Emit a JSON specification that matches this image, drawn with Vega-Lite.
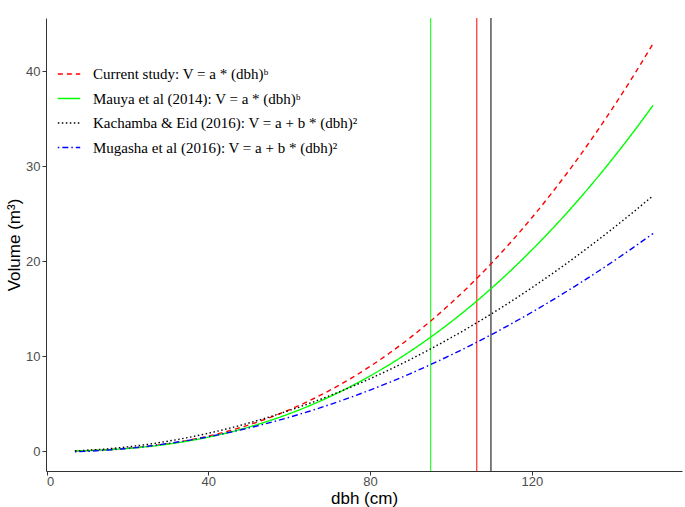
{
  "$schema": "https://vega.github.io/schema/vega-lite/v6.json",
  "width": 636,
  "height": 453,
  "autosize": "none",
  "padding": {"left": 46, "top": 18, "right": 3, "bottom": 36},
  "background": "white",
  "config": {
    "view": {"stroke": null},
    "axis": {
      "grid": false,
      "domainColor": "#333333",
      "domainWidth": 1,
      "tickColor": "#333333",
      "tickSize": 4,
      "labelColor": "#4D4D4D",
      "labelFont": "Liberation Sans",
      "labelFontSize": 13,
      "labelPadding": 2,
      "titleFont": "Liberation Sans",
      "titleFontSize": 17,
      "titleFontWeight": "normal",
      "titleColor": "#000000"
    }
  },
  "datasets": {
    "cuts": [
      {"model": "Mauya et al (2014): V = a * (dbh)ᵇ", "dbh": 95.0},
      {"model": "Current study: V = a * (dbh)ᵇ", "dbh": 106.4},
      {"model": "Kachamba & Eid (2016): V = a + b * (dbh)²", "dbh": 109.9}
    ],
    "curves": [
      {"model": "Current study: V = a * (dbh)ᵇ", "dbh": 7, "v": 0.020},
      {"model": "Current study: V = a * (dbh)ᵇ", "dbh": 10, "v": 0.049},
      {"model": "Current study: V = a * (dbh)ᵇ", "dbh": 15, "v": 0.136},
      {"model": "Current study: V = a * (dbh)ᵇ", "dbh": 20, "v": 0.279},
      {"model": "Current study: V = a * (dbh)ᵇ", "dbh": 25, "v": 0.487},
      {"model": "Current study: V = a * (dbh)ᵇ", "dbh": 30, "v": 0.768},
      {"model": "Current study: V = a * (dbh)ᵇ", "dbh": 35, "v": 1.128},
      {"model": "Current study: V = a * (dbh)ᵇ", "dbh": 40, "v": 1.576},
      {"model": "Current study: V = a * (dbh)ᵇ", "dbh": 45, "v": 2.115},
      {"model": "Current study: V = a * (dbh)ᵇ", "dbh": 50, "v": 2.752},
      {"model": "Current study: V = a * (dbh)ᵇ", "dbh": 55, "v": 3.493},
      {"model": "Current study: V = a * (dbh)ᵇ", "dbh": 60, "v": 4.342},
      {"model": "Current study: V = a * (dbh)ᵇ", "dbh": 65, "v": 5.304},
      {"model": "Current study: V = a * (dbh)ᵇ", "dbh": 70, "v": 6.383},
      {"model": "Current study: V = a * (dbh)ᵇ", "dbh": 75, "v": 7.585},
      {"model": "Current study: V = a * (dbh)ᵇ", "dbh": 80, "v": 8.913},
      {"model": "Current study: V = a * (dbh)ᵇ", "dbh": 85, "v": 10.372},
      {"model": "Current study: V = a * (dbh)ᵇ", "dbh": 90, "v": 11.965},
      {"model": "Current study: V = a * (dbh)ᵇ", "dbh": 95, "v": 13.696},
      {"model": "Current study: V = a * (dbh)ᵇ", "dbh": 100, "v": 15.570},
      {"model": "Current study: V = a * (dbh)ᵇ", "dbh": 105, "v": 17.590},
      {"model": "Current study: V = a * (dbh)ᵇ", "dbh": 110, "v": 19.759},
      {"model": "Current study: V = a * (dbh)ᵇ", "dbh": 115, "v": 22.082},
      {"model": "Current study: V = a * (dbh)ᵇ", "dbh": 120, "v": 24.561},
      {"model": "Current study: V = a * (dbh)ᵇ", "dbh": 125, "v": 27.200},
      {"model": "Current study: V = a * (dbh)ᵇ", "dbh": 130, "v": 30.002},
      {"model": "Current study: V = a * (dbh)ᵇ", "dbh": 135, "v": 32.970},
      {"model": "Current study: V = a * (dbh)ᵇ", "dbh": 140, "v": 36.108},
      {"model": "Current study: V = a * (dbh)ᵇ", "dbh": 145, "v": 39.421},
      {"model": "Current study: V = a * (dbh)ᵇ", "dbh": 150, "v": 42.906},
      {"model": "Mauya et al (2014): V = a * (dbh)ᵇ", "dbh": 7, "v": 0.021},
      {"model": "Mauya et al (2014): V = a * (dbh)ᵇ", "dbh": 10, "v": 0.050},
      {"model": "Mauya et al (2014): V = a * (dbh)ᵇ", "dbh": 15, "v": 0.136},
      {"model": "Mauya et al (2014): V = a * (dbh)ᵇ", "dbh": 20, "v": 0.273},
      {"model": "Mauya et al (2014): V = a * (dbh)ᵇ", "dbh": 25, "v": 0.468},
      {"model": "Mauya et al (2014): V = a * (dbh)ᵇ", "dbh": 30, "v": 0.729},
      {"model": "Mauya et al (2014): V = a * (dbh)ᵇ", "dbh": 35, "v": 1.060},
      {"model": "Mauya et al (2014): V = a * (dbh)ᵇ", "dbh": 40, "v": 1.467},
      {"model": "Mauya et al (2014): V = a * (dbh)ᵇ", "dbh": 45, "v": 1.952},
      {"model": "Mauya et al (2014): V = a * (dbh)ᵇ", "dbh": 50, "v": 2.522},
      {"model": "Mauya et al (2014): V = a * (dbh)ᵇ", "dbh": 55, "v": 3.179},
      {"model": "Mauya et al (2014): V = a * (dbh)ᵇ", "dbh": 60, "v": 3.928},
      {"model": "Mauya et al (2014): V = a * (dbh)ᵇ", "dbh": 65, "v": 4.771},
      {"model": "Mauya et al (2014): V = a * (dbh)ᵇ", "dbh": 70, "v": 5.713},
      {"model": "Mauya et al (2014): V = a * (dbh)ᵇ", "dbh": 75, "v": 6.756},
      {"model": "Mauya et al (2014): V = a * (dbh)ᵇ", "dbh": 80, "v": 7.903},
      {"model": "Mauya et al (2014): V = a * (dbh)ᵇ", "dbh": 85, "v": 9.157},
      {"model": "Mauya et al (2014): V = a * (dbh)ᵇ", "dbh": 90, "v": 10.521},
      {"model": "Mauya et al (2014): V = a * (dbh)ᵇ", "dbh": 95, "v": 11.998},
      {"model": "Mauya et al (2014): V = a * (dbh)ᵇ", "dbh": 100, "v": 13.589},
      {"model": "Mauya et al (2014): V = a * (dbh)ᵇ", "dbh": 105, "v": 15.300},
      {"model": "Mauya et al (2014): V = a * (dbh)ᵇ", "dbh": 110, "v": 17.133},
      {"model": "Mauya et al (2014): V = a * (dbh)ᵇ", "dbh": 115, "v": 19.088},
      {"model": "Mauya et al (2014): V = a * (dbh)ᵇ", "dbh": 120, "v": 21.167},
      {"model": "Mauya et al (2014): V = a * (dbh)ᵇ", "dbh": 125, "v": 23.373},
      {"model": "Mauya et al (2014): V = a * (dbh)ᵇ", "dbh": 130, "v": 25.712},
      {"model": "Mauya et al (2014): V = a * (dbh)ᵇ", "dbh": 135, "v": 28.179},
      {"model": "Mauya et al (2014): V = a * (dbh)ᵇ", "dbh": 140, "v": 30.786},
      {"model": "Mauya et al (2014): V = a * (dbh)ᵇ", "dbh": 145, "v": 33.524},
      {"model": "Mauya et al (2014): V = a * (dbh)ᵇ", "dbh": 150, "v": 36.406},
      {"model": "Kachamba & Eid (2016): V = a + b * (dbh)²", "dbh": 7, "v": 0.019},
      {"model": "Kachamba & Eid (2016): V = a + b * (dbh)²", "dbh": 10, "v": 0.080},
      {"model": "Kachamba & Eid (2016): V = a + b * (dbh)²", "dbh": 15, "v": 0.229},
      {"model": "Kachamba & Eid (2016): V = a + b * (dbh)²", "dbh": 20, "v": 0.439},
      {"model": "Kachamba & Eid (2016): V = a + b * (dbh)²", "dbh": 25, "v": 0.708},
      {"model": "Kachamba & Eid (2016): V = a + b * (dbh)²", "dbh": 30, "v": 1.037},
      {"model": "Kachamba & Eid (2016): V = a + b * (dbh)²", "dbh": 35, "v": 1.426},
      {"model": "Kachamba & Eid (2016): V = a + b * (dbh)²", "dbh": 40, "v": 1.875},
      {"model": "Kachamba & Eid (2016): V = a + b * (dbh)²", "dbh": 45, "v": 2.384},
      {"model": "Kachamba & Eid (2016): V = a + b * (dbh)²", "dbh": 50, "v": 2.953},
      {"model": "Kachamba & Eid (2016): V = a + b * (dbh)²", "dbh": 55, "v": 3.581},
      {"model": "Kachamba & Eid (2016): V = a + b * (dbh)²", "dbh": 60, "v": 4.269},
      {"model": "Kachamba & Eid (2016): V = a + b * (dbh)²", "dbh": 65, "v": 5.017},
      {"model": "Kachamba & Eid (2016): V = a + b * (dbh)²", "dbh": 70, "v": 5.825},
      {"model": "Kachamba & Eid (2016): V = a + b * (dbh)²", "dbh": 75, "v": 6.693},
      {"model": "Kachamba & Eid (2016): V = a + b * (dbh)²", "dbh": 80, "v": 7.621},
      {"model": "Kachamba & Eid (2016): V = a + b * (dbh)²", "dbh": 85, "v": 8.608},
      {"model": "Kachamba & Eid (2016): V = a + b * (dbh)²", "dbh": 90, "v": 9.656},
      {"model": "Kachamba & Eid (2016): V = a + b * (dbh)²", "dbh": 95, "v": 10.763},
      {"model": "Kachamba & Eid (2016): V = a + b * (dbh)²", "dbh": 100, "v": 11.930},
      {"model": "Kachamba & Eid (2016): V = a + b * (dbh)²", "dbh": 105, "v": 13.157},
      {"model": "Kachamba & Eid (2016): V = a + b * (dbh)²", "dbh": 110, "v": 14.444},
      {"model": "Kachamba & Eid (2016): V = a + b * (dbh)²", "dbh": 115, "v": 15.790},
      {"model": "Kachamba & Eid (2016): V = a + b * (dbh)²", "dbh": 120, "v": 17.197},
      {"model": "Kachamba & Eid (2016): V = a + b * (dbh)²", "dbh": 125, "v": 18.663},
      {"model": "Kachamba & Eid (2016): V = a + b * (dbh)²", "dbh": 130, "v": 20.189},
      {"model": "Kachamba & Eid (2016): V = a + b * (dbh)²", "dbh": 135, "v": 21.775},
      {"model": "Kachamba & Eid (2016): V = a + b * (dbh)²", "dbh": 140, "v": 23.421},
      {"model": "Kachamba & Eid (2016): V = a + b * (dbh)²", "dbh": 145, "v": 25.127},
      {"model": "Kachamba & Eid (2016): V = a + b * (dbh)²", "dbh": 150, "v": 26.893},
      {"model": "Mugasha et al (2016): V = a + b * (dbh)²", "dbh": 7, "v": -0.080},
      {"model": "Mugasha et al (2016): V = a + b * (dbh)²", "dbh": 10, "v": -0.028},
      {"model": "Mugasha et al (2016): V = a + b * (dbh)²", "dbh": 15, "v": 0.100},
      {"model": "Mugasha et al (2016): V = a + b * (dbh)²", "dbh": 20, "v": 0.280},
      {"model": "Mugasha et al (2016): V = a + b * (dbh)²", "dbh": 25, "v": 0.510},
      {"model": "Mugasha et al (2016): V = a + b * (dbh)²", "dbh": 30, "v": 0.792},
      {"model": "Mugasha et al (2016): V = a + b * (dbh)²", "dbh": 35, "v": 1.124},
      {"model": "Mugasha et al (2016): V = a + b * (dbh)²", "dbh": 40, "v": 1.508},
      {"model": "Mugasha et al (2016): V = a + b * (dbh)²", "dbh": 45, "v": 1.944},
      {"model": "Mugasha et al (2016): V = a + b * (dbh)²", "dbh": 50, "v": 2.430},
      {"model": "Mugasha et al (2016): V = a + b * (dbh)²", "dbh": 55, "v": 2.968},
      {"model": "Mugasha et al (2016): V = a + b * (dbh)²", "dbh": 60, "v": 3.556},
      {"model": "Mugasha et al (2016): V = a + b * (dbh)²", "dbh": 65, "v": 4.196},
      {"model": "Mugasha et al (2016): V = a + b * (dbh)²", "dbh": 70, "v": 4.888},
      {"model": "Mugasha et al (2016): V = a + b * (dbh)²", "dbh": 75, "v": 5.630},
      {"model": "Mugasha et al (2016): V = a + b * (dbh)²", "dbh": 80, "v": 6.424},
      {"model": "Mugasha et al (2016): V = a + b * (dbh)²", "dbh": 85, "v": 7.268},
      {"model": "Mugasha et al (2016): V = a + b * (dbh)²", "dbh": 90, "v": 8.164},
      {"model": "Mugasha et al (2016): V = a + b * (dbh)²", "dbh": 95, "v": 9.112},
      {"model": "Mugasha et al (2016): V = a + b * (dbh)²", "dbh": 100, "v": 10.110},
      {"model": "Mugasha et al (2016): V = a + b * (dbh)²", "dbh": 105, "v": 11.160},
      {"model": "Mugasha et al (2016): V = a + b * (dbh)²", "dbh": 110, "v": 12.260},
      {"model": "Mugasha et al (2016): V = a + b * (dbh)²", "dbh": 115, "v": 13.412},
      {"model": "Mugasha et al (2016): V = a + b * (dbh)²", "dbh": 120, "v": 14.616},
      {"model": "Mugasha et al (2016): V = a + b * (dbh)²", "dbh": 125, "v": 15.870},
      {"model": "Mugasha et al (2016): V = a + b * (dbh)²", "dbh": 130, "v": 17.176},
      {"model": "Mugasha et al (2016): V = a + b * (dbh)²", "dbh": 135, "v": 18.532},
      {"model": "Mugasha et al (2016): V = a + b * (dbh)²", "dbh": 140, "v": 19.940},
      {"model": "Mugasha et al (2016): V = a + b * (dbh)²", "dbh": 145, "v": 21.400},
      {"model": "Mugasha et al (2016): V = a + b * (dbh)²", "dbh": 150, "v": 22.910}
    ]
  },
  "layer": [
    {
      "data": {"name": "cuts"},
      "mark": {"type": "rule", "strokeWidth": 1},
      "encoding": {
        "x": {"field": "dbh", "type": "quantitative"},
        "color": {"field": "model", "type": "nominal"}
      }
    },
    {
      "data": {"name": "curves"},
      "mark": {"type": "line", "strokeWidth": 1.4, "interpolate": "monotone"},
      "encoding": {
        "x": {
          "field": "dbh",
          "type": "quantitative",
          "scale": {"domain": [-0.15, 157.15], "nice": false, "zero": false},
          "axis": {"values": [0, 40, 80, 120], "title": "dbh (cm)", "labelPadding": 0, "titlePadding": 2}
        },
        "y": {
          "field": "v",
          "type": "quantitative",
          "scale": {"domain": [-2.1, 45.6], "nice": false, "zero": false},
          "axis": {"values": [0, 10, 20, 30, 40], "title": "Volume (m³)", "titlePadding": 2}
        },
        "color": {
          "field": "model",
          "type": "nominal",
          "sort": ["Current study: V = a * (dbh)ᵇ", "Mauya et al (2014): V = a * (dbh)ᵇ", "Kachamba & Eid (2016): V = a + b * (dbh)²", "Mugasha et al (2016): V = a + b * (dbh)²"],
          "scale": {
            "domain": ["Current study: V = a * (dbh)ᵇ", "Mauya et al (2014): V = a * (dbh)ᵇ", "Kachamba & Eid (2016): V = a + b * (dbh)²", "Mugasha et al (2016): V = a + b * (dbh)²"],
            "range": ["#FF0000", "#00FF00", "#000000", "#0000FF"]
          },
          "legend": {
            "title": null,
            "orient": "none",
            "legendX": 11,
            "legendY": 44,
            "symbolType": "stroke",
            "symbolSize": 500,
            "symbolStrokeWidth": 1.4,
            "labelFont": "Liberation Serif",
            "labelFontSize": 15,
            "labelColor": "#000000",
            "labelOffset": 12,
            "rowPadding": 4.5,
            "labelLimit": 400
          }
        },
        "strokeDash": {
          "field": "model",
          "type": "nominal",
          "sort": ["Current study: V = a * (dbh)ᵇ", "Mauya et al (2014): V = a * (dbh)ᵇ", "Kachamba & Eid (2016): V = a + b * (dbh)²", "Mugasha et al (2016): V = a + b * (dbh)²"],
          "scale": {
            "domain": ["Current study: V = a * (dbh)ᵇ", "Mauya et al (2014): V = a * (dbh)ᵇ", "Kachamba & Eid (2016): V = a + b * (dbh)²", "Mugasha et al (2016): V = a + b * (dbh)²"],
            "range": [[5, 4], [1, 0], [1.5, 2.5], [1.5, 3, 6, 3]]
          },
          "legend": {
            "title": null,
            "orient": "none",
            "legendX": 11,
            "legendY": 44,
            "symbolType": "stroke",
            "symbolSize": 500,
            "symbolStrokeWidth": 1.4,
            "labelFont": "Liberation Serif",
            "labelFontSize": 15,
            "labelColor": "#000000",
            "labelOffset": 12,
            "rowPadding": 4.5,
            "labelLimit": 400
          }
        }
      }
    }
  ]
}
